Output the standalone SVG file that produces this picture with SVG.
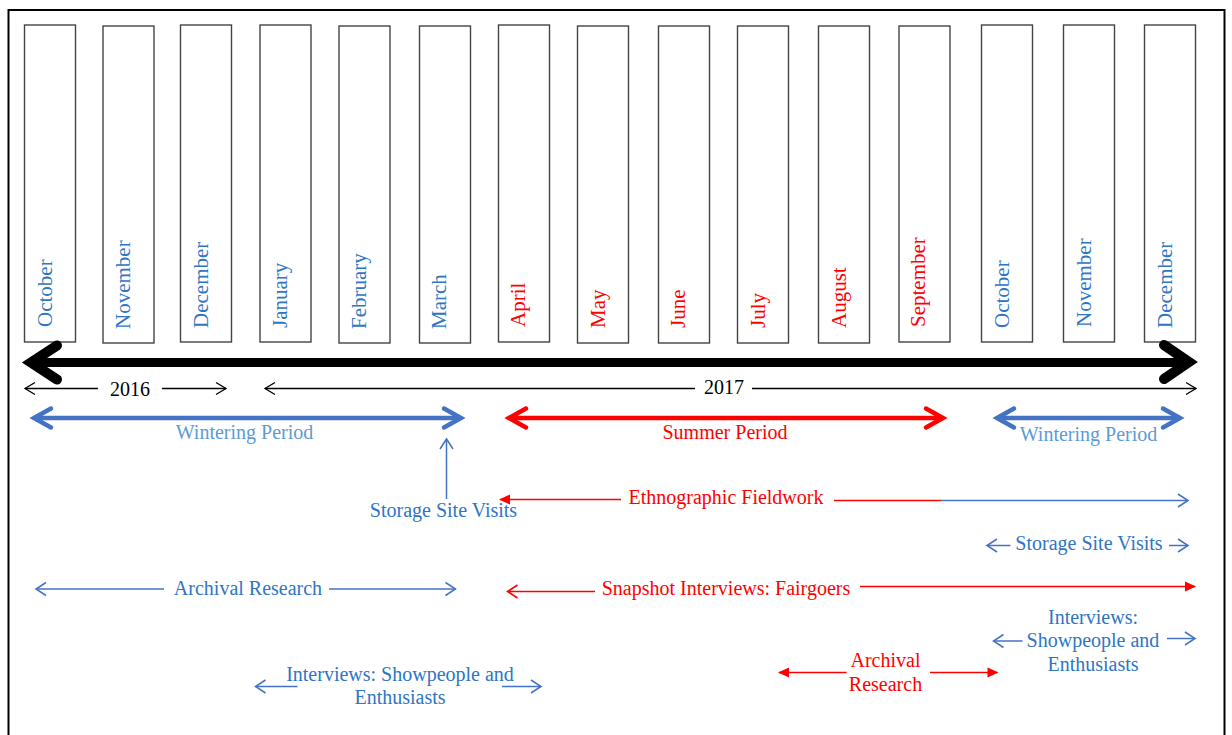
<svg xmlns="http://www.w3.org/2000/svg" width="1232" height="735" viewBox="0 0 1232 735">
  <style>
    .frame { fill: #ffffff; stroke: #000000; stroke-width: 2; }
    .month-box { fill: #ffffff; stroke: #444444; stroke-width: 1.4; }
    .lbl { font-family: "Liberation Serif", "Times New Roman", serif; font-size: 20px; }
    .month { font-family: "Liberation Serif", "Times New Roman", serif; font-size: 21px; }
    .mid { text-anchor: middle; }
    .blue { fill: #2E75C4; }
    .blue-lt { fill: #5B9BD5; }
    .red { fill: #FF0000; }
    .black { fill: #000000; }
    .ln-black { stroke: #000000; stroke-width: 1.3; fill: none; }
    .ln-blue { stroke: #4472C4; stroke-width: 1.5; fill: none; }
    .ln-red { stroke: #FF0000; stroke-width: 1.6; fill: none; }
    .thick-blue { stroke: #4472C4; stroke-width: 4.5; fill: none; }
    .thick-red { stroke: #FF0000; stroke-width: 4.5; fill: none; }
  </style>
  <defs>
    <marker id="chev-black" markerUnits="userSpaceOnUse" viewBox="-15 -15 30 30" markerWidth="30" markerHeight="30" refX="0" refY="0" orient="auto-start-reverse" overflow="visible">
      <path d="M-10,-6 L0,0 L-10,6" fill="none" stroke="#000000" stroke-width="1.3"/>
    </marker>
    <marker id="chev-blue" markerUnits="userSpaceOnUse" viewBox="-15 -15 30 30" markerWidth="30" markerHeight="30" refX="0" refY="0" orient="auto-start-reverse" overflow="visible">
      <path d="M-10,-6.5 L0,0 L-10,6.5" fill="none" stroke="#4472C4" stroke-width="1.5"/>
    </marker>
    <marker id="chev-red" markerUnits="userSpaceOnUse" viewBox="-15 -15 30 30" markerWidth="30" markerHeight="30" refX="0" refY="0" orient="auto-start-reverse" overflow="visible">
      <path d="M-10,-6.5 L0,0 L-10,6.5" fill="none" stroke="#FF0000" stroke-width="1.6"/>
    </marker>
    <marker id="tri-red" markerUnits="userSpaceOnUse" viewBox="-15 -15 30 30" markerWidth="30" markerHeight="30" refX="0" refY="0" orient="auto-start-reverse" overflow="visible">
      <path d="M1,0 L-10,-5 L-10,5 Z" fill="#FF0000"/>
    </marker>
    <marker id="big-blue" markerUnits="userSpaceOnUse" viewBox="-30 -30 60 60" markerWidth="60" markerHeight="60" refX="0" refY="0" orient="auto-start-reverse" overflow="visible">
      <path d="M-17,-9.5 L0,0 L-17,9.5" fill="none" stroke="#4472C4" stroke-width="4.5" stroke-linecap="round"/>
    </marker>
    <marker id="big-red" markerUnits="userSpaceOnUse" viewBox="-30 -30 60 60" markerWidth="60" markerHeight="60" refX="0" refY="0" orient="auto-start-reverse" overflow="visible">
      <path d="M-17,-9.5 L0,0 L-17,9.5" fill="none" stroke="#FF0000" stroke-width="4.5" stroke-linecap="round"/>
    </marker>
  </defs>

  <!-- outer border -->
  <rect class="frame" x="8.5" y="10" width="1216" height="740"/>

  <!-- month columns -->
  <g id="month-oct-2016">
    <rect class="month-box" x="24.5" y="25" width="51" height="317"/>
    <text class="month blue" transform="translate(51.5,327) rotate(-90)">October</text>
  </g>
  <g id="month-nov-2016">
    <rect class="month-box" x="103" y="26" width="51" height="317"/>
    <text class="month blue" transform="translate(129.5,329) rotate(-90)">November</text>
  </g>
  <g id="month-dec-2016">
    <rect class="month-box" x="180.5" y="25" width="51" height="317"/>
    <text class="month blue" transform="translate(208,328) rotate(-90)">December</text>
  </g>
  <g id="month-jan-2017">
    <rect class="month-box" x="260" y="25" width="51" height="317"/>
    <text class="month blue" transform="translate(287,328) rotate(-90)">January</text>
  </g>
  <g id="month-feb-2017">
    <rect class="month-box" x="339" y="26" width="51" height="317"/>
    <text class="month blue" transform="translate(366,329) rotate(-90)">February</text>
  </g>
  <g id="month-mar-2017">
    <rect class="month-box" x="419.5" y="26" width="51" height="317"/>
    <text class="month blue" transform="translate(446,329) rotate(-90)">March</text>
  </g>
  <g id="month-apr-2017">
    <rect class="month-box" x="498.5" y="25" width="51" height="317"/>
    <text class="month red" transform="translate(525,327) rotate(-90)">April</text>
  </g>
  <g id="month-may-2017">
    <rect class="month-box" x="577.5" y="26" width="51" height="317"/>
    <text class="month red" transform="translate(604.5,328) rotate(-90)">May</text>
  </g>
  <g id="month-jun-2017">
    <rect class="month-box" x="658.5" y="26" width="51" height="317"/>
    <text class="month red" transform="translate(685,328) rotate(-90)">June</text>
  </g>
  <g id="month-jul-2017">
    <rect class="month-box" x="737.5" y="26" width="51" height="317"/>
    <text class="month red" transform="translate(764.5,328) rotate(-90)">July</text>
  </g>
  <g id="month-aug-2017">
    <rect class="month-box" x="818.5" y="26" width="51" height="317"/>
    <text class="month red" transform="translate(845.5,328) rotate(-90)">August</text>
  </g>
  <g id="month-sep-2017">
    <rect class="month-box" x="899" y="26" width="51" height="316"/>
    <text class="month red" transform="translate(925,327) rotate(-90)">September</text>
  </g>
  <g id="month-oct-2017">
    <rect class="month-box" x="981.5" y="25" width="51" height="317"/>
    <text class="month blue" transform="translate(1008.5,328) rotate(-90)">October</text>
  </g>
  <g id="month-nov-2017">
    <rect class="month-box" x="1063.5" y="25" width="51" height="317"/>
    <text class="month blue" transform="translate(1091,327) rotate(-90)">November</text>
  </g>
  <g id="month-dec-2017">
    <rect class="month-box" x="1144.5" y="25" width="51" height="317"/>
    <text class="month blue" transform="translate(1171.5,328) rotate(-90)">December</text>
  </g>

  <!-- main timeline axis -->
  <g id="timeline-axis">
    <line x1="30" y1="362.5" x2="1190" y2="362.5" stroke="#000000" stroke-width="9"/>
    <polyline points="57,345.5 31,362.5 57,379.5" fill="none" stroke="#000000" stroke-width="10" stroke-linecap="round" stroke-linejoin="miter"/>
    <polyline points="1164,345 1189,362 1164,379" fill="none" stroke="#000000" stroke-width="10" stroke-linecap="round" stroke-linejoin="miter"/>
  </g>

  <!-- labels -->
  <g id="year-2016"><text class="lbl black mid" x="130" y="395.5">2016</text></g>
  <g id="year-2017"><text class="lbl black mid" x="724" y="393.5">2017</text></g>
  <g id="wintering-period-1"><text class="lbl blue-lt mid" x="244.5" y="438.5">Wintering Period</text></g>
  <g id="summer-period"><text class="lbl red mid" x="725" y="438.5">Summer Period</text></g>
  <g id="wintering-period-2"><text class="lbl blue-lt mid" x="1088.5" y="440.5">Wintering Period</text></g>
  <g id="storage-site-visits-1"><text class="lbl blue mid" x="443.5" y="517">Storage Site Visits</text></g>
  <g id="ethnographic-fieldwork"><text class="lbl red mid" x="726" y="504">Ethnographic Fieldwork</text></g>
  <g id="storage-site-visits-2"><text class="lbl blue mid" x="1089" y="549.5">Storage Site Visits</text></g>
  <g id="archival-research-1"><text class="lbl blue mid" x="248" y="594.5">Archival Research</text></g>
  <g id="snapshot-interviews"><text class="lbl red mid" x="726" y="594.5">Snapshot Interviews: Fairgoers</text></g>
  <g id="interviews-2">
    <text class="lbl blue mid" x="1093" y="623.5">Interviews:</text>
    <text class="lbl blue mid" x="1093" y="647">Showpeople and</text>
    <text class="lbl blue mid" x="1093" y="670.5">Enthusiasts</text>
  </g>
  <g id="archival-research-2">
    <text class="lbl red mid" x="885.5" y="667">Archival</text>
    <text class="lbl red mid" x="885.5" y="690.5">Research</text>
  </g>
  <g id="interviews-1">
    <text class="lbl blue mid" x="400" y="680.5">Interviews: Showpeople and</text>
    <text class="lbl blue mid" x="400" y="703.5">Enthusiasts</text>
  </g>

  <!-- connectors -->
  <g id="connectors">
    <!-- year spans -->
    <line class="ln-black" x1="98" y1="388.5" x2="25" y2="388.5" marker-end="url(#chev-black)"/>
    <line class="ln-black" x1="162" y1="388.5" x2="226" y2="388.5" marker-end="url(#chev-black)"/>
    <line class="ln-black" x1="695" y1="388.5" x2="265" y2="388.5" marker-end="url(#chev-black)"/>
    <line class="ln-black" x1="752" y1="388.5" x2="1196" y2="388.5" marker-end="url(#chev-black)"/>

    <!-- seasons -->
    <line class="thick-blue" x1="34" y1="418" x2="461" y2="418" marker-start="url(#big-blue)" marker-end="url(#big-blue)"/>
    <line class="thick-red" x1="509" y1="418" x2="943" y2="418" marker-start="url(#big-red)" marker-end="url(#big-red)"/>
    <line class="thick-blue" x1="997" y1="418" x2="1180" y2="418" marker-start="url(#big-blue)" marker-end="url(#big-blue)"/>

    <!-- storage site visits (spring) -->
    <line class="ln-blue" x1="446.5" y1="499" x2="446.5" y2="439" marker-end="url(#chev-blue)"/>

    <!-- ethnographic fieldwork -->
    <line class="ln-red" x1="621" y1="499.5" x2="500" y2="499.5" marker-end="url(#tri-red)"/>
    <line class="ln-red" x1="834" y1="500.5" x2="941" y2="500.5"/>
    <line class="ln-blue" x1="941" y1="500.5" x2="1188" y2="500.5" marker-end="url(#chev-blue)"/>

    <!-- storage site visits (autumn) -->
    <line class="ln-blue" x1="1010.5" y1="545.5" x2="987" y2="545.5" marker-end="url(#chev-blue)"/>
    <line class="ln-blue" x1="1169" y1="545.5" x2="1188" y2="545.5" marker-end="url(#chev-blue)"/>

    <!-- archival research (winter) -->
    <line class="ln-blue" x1="164" y1="589" x2="36" y2="589" marker-end="url(#chev-blue)"/>
    <line class="ln-blue" x1="329" y1="589" x2="455.5" y2="589" marker-end="url(#chev-blue)"/>

    <!-- snapshot interviews -->
    <line class="ln-red" x1="595" y1="591.5" x2="507.5" y2="591.5" marker-end="url(#chev-red)"/>
    <line class="ln-red" x1="860" y1="586.5" x2="1195" y2="586.5" marker-end="url(#tri-red)"/>

    <!-- interviews (autumn) -->
    <line class="ln-blue" x1="1022.5" y1="641" x2="993.5" y2="641" marker-end="url(#chev-blue)"/>
    <line class="ln-blue" x1="1167" y1="638.5" x2="1195" y2="638.5" marker-end="url(#chev-blue)"/>

    <!-- archival research (summer) -->
    <line class="ln-red" x1="846.5" y1="672.5" x2="779" y2="672.5" marker-end="url(#tri-red)"/>
    <line class="ln-red" x1="930" y1="672.5" x2="997.5" y2="672.5" marker-end="url(#tri-red)"/>

    <!-- interviews (winter) -->
    <line class="ln-blue" x1="297.5" y1="686.5" x2="255.5" y2="686.5" marker-end="url(#chev-blue)"/>
    <line class="ln-blue" x1="502" y1="686.5" x2="541" y2="686.5" marker-end="url(#chev-blue)"/>
  </g>
</svg>
